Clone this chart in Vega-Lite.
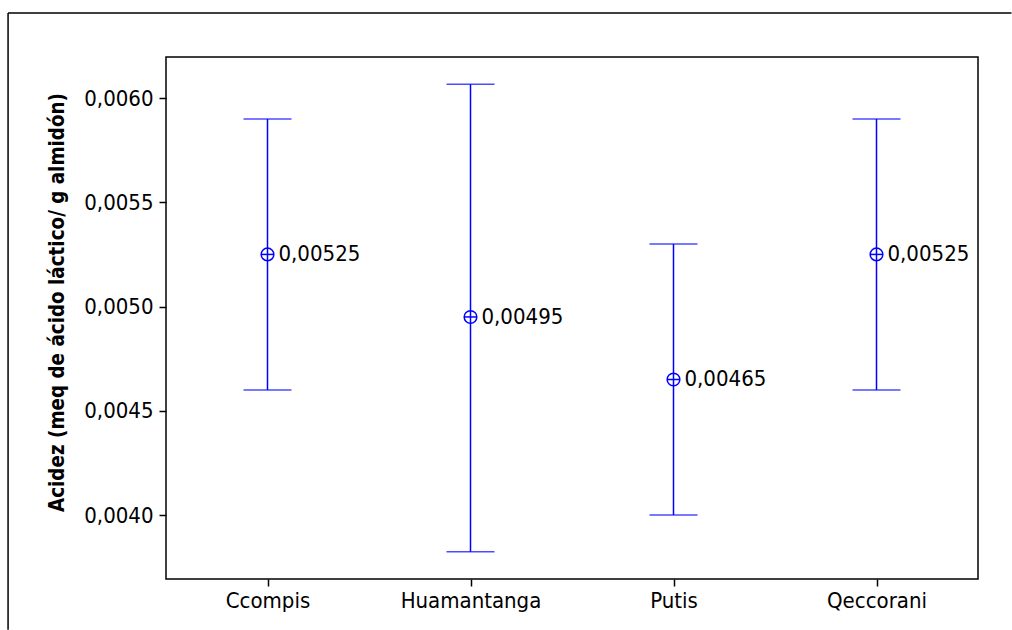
{
  "$schema": "https://vega.github.io/schema/vega-lite/v6.json",
  "width": 812,
  "height": 522,
  "autosize": {"type": "none"},
  "padding": {"left": 166, "top": 57, "right": 34, "bottom": 51},
  "background": "white",
  "config": {
    "locale": {"number": {"decimal": ",", "thousands": ".", "grouping": [3], "currency": ["", ""]}},
    "view": {"stroke": "black", "strokeWidth": 1.5},
    "axis": {
      "labelFont": "DejaVu Sans Condensed",
      "labelFontSize": 22,
      "labelColor": "black",
      "titleFont": "DejaVu Sans Condensed",
      "titleFontSize": 20.4,
      "titleFontWeight": "bold",
      "titleColor": "black",
      "tickColor": "black",
      "tickWidth": 1.5,
      "domain": false,
      "grid": false
    }
  },
  "resolve": {"scale": {"x": "independent"}, "axis": {"x": "independent"}},
  "layer": [
    {
      "data": {"values": [{"x1": -0.778, "x2": 4.165, "y1": 0.006408, "y2": 0.006408}, {"x1": -0.778, "x2": -0.778, "y1": 0.006408, "y2": 0.00345}]},
      "mark": {"type": "rule", "stroke": "black", "strokeWidth": 1.5, "clip": false},
      "encoding": {
        "x": {"field": "x1", "type": "quantitative", "scale": {"domain": [0, 4], "nice": false, "zero": false}, "axis": null},
        "x2": {"field": "x2"},
        "y": {"field": "y1", "type": "quantitative", "scale": {"domain": [0.003693, 0.006197], "nice": false, "zero": false}},
        "y2": {"field": "y2"}
      }
    },
    {
      "data": {
        "values": [
          {"sitio": "Ccompis", "media": 0.00525, "inferior": 0.0046, "superior": 0.0059},
          {"sitio": "Huamantanga", "media": 0.00495, "inferior": 0.003824, "superior": 0.006066},
          {"sitio": "Putis", "media": 0.00465, "inferior": 0.0040, "superior": 0.0053},
          {"sitio": "Qeccorani", "media": 0.00525, "inferior": 0.0046, "superior": 0.0059}
        ]
      },
      "encoding": {
        "x": {
          "field": "sitio",
          "type": "nominal",
          "sort": null,
          "scale": {"type": "point", "padding": 0.5},
          "axis": {"title": null, "labelAngle": 0, "tickSize": 7, "labelPadding": 4}
        }
      },
      "layer": [
        {
          "mark": {"type": "rule", "color": "#0000FF", "strokeWidth": 1.5},
          "encoding": {
            "y": {
              "field": "inferior",
              "type": "quantitative",
              "axis": {
                "title": "Acidez (meq de ácido láctico/ g almidón)",
                "format": ".4f",
                "values": [0.004, 0.0045, 0.005, 0.0055, 0.006],
                "tickSize": 7,
                "labelPadding": 6,
                "titleX": -109,
                "titleY": 245,
                "titleBaseline": "middle",
                "titleAngle": -90,
                "titleAlign": "center"
              }
            },
            "y2": {"field": "superior"}
          }
        },
        {
          "mark": {"type": "tick", "color": "#0000FF", "size": 48, "thickness": 1.5, "orient": "horizontal"},
          "encoding": {"y": {"field": "superior", "type": "quantitative"}}
        },
        {
          "mark": {"type": "tick", "color": "#0000FF", "size": 48, "thickness": 1.5, "orient": "horizontal"},
          "encoding": {"y": {"field": "inferior", "type": "quantitative"}}
        },
        {
          "mark": {"type": "point", "shape": "circle", "filled": false, "color": "#0000FF", "size": 160, "strokeWidth": 1.5, "opacity": 1},
          "encoding": {"y": {"field": "media", "type": "quantitative"}}
        },
        {
          "mark": {"type": "point", "shape": "M-1,0L1,0", "filled": false, "color": "#0000FF", "size": 160, "strokeWidth": 1.5, "opacity": 1},
          "encoding": {"y": {"field": "media", "type": "quantitative"}}
        },
        {
          "mark": {"type": "text", "align": "left", "baseline": "middle", "dx": 11, "font": "DejaVu Sans Condensed", "fontSize": 22, "color": "black"},
          "encoding": {
            "y": {"field": "media", "type": "quantitative"},
            "text": {"field": "media", "type": "quantitative", "format": ".5f"}
          }
        }
      ]
    }
  ]
}
